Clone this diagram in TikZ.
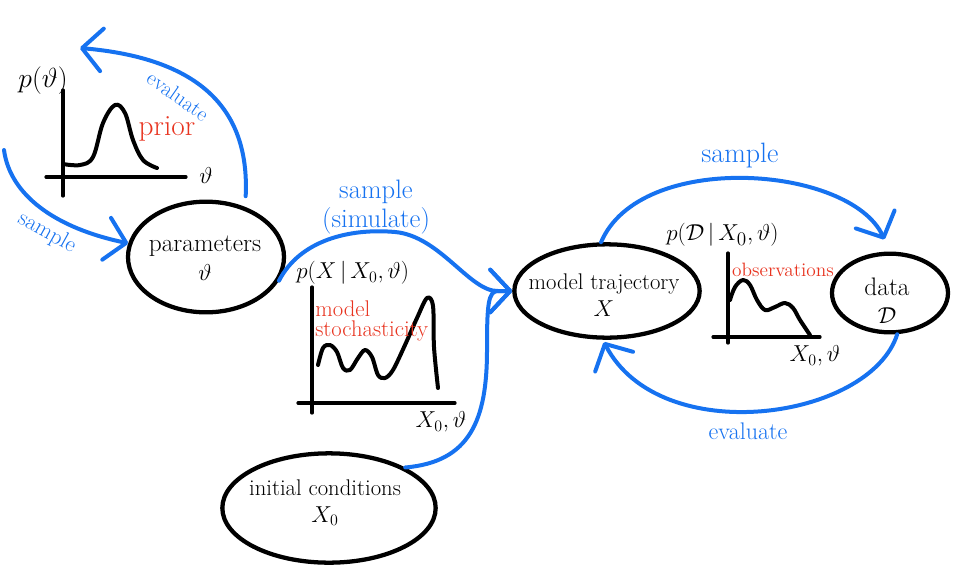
\documentclass[tikz,border=0pt]{standalone}
\usepackage{fontspec}
\usetikzlibrary{shapes.geometric,arrows.meta}
\definecolor{hblue}{RGB}{22,114,240}
\definecolor{hred}{RGB}{232,52,32}
\begin{document}
\begin{tikzpicture}[x=0.75pt,y=-0.75pt,
  ell/.style={draw=black,line width=3.2pt,ellipse,inner sep=0pt},
  conn/.style={draw=hblue,line width=3pt,line cap=round,
    -{Straight Barb[length=15pt,width=32pt,round]}},
  axis/.style={draw=black,line width=2.4pt,line cap=round},
  curve/.style={draw=black,line width=3pt,line cap=round,line join=round},
  txt/.style={font=\fontsize{17}{20}\selectfont,inner sep=0pt,align=center},
  btxt/.style={text=hblue,font=\fontsize{19}{22}\selectfont,inner sep=0pt,align=center},
  rtxt/.style={text=hred,font=\fontsize{17}{19}\selectfont,inner sep=0pt,align=left},
  mtxt/.style={font=\fontsize{18}{20}\selectfont,inner sep=0pt}
]
\useasboundingbox (0,0) rectangle (955,567);

% ---------- nodes ----------
\node[ell,minimum width=117pt,minimum height=83pt] (par) at (206,257) {};
\node[txt,font=\fontsize{19}{22}\selectfont] (partxt) at (205,258) {parameters\\$\vartheta$};

\node[ell,minimum width=139pt,minimum height=70pt] (traj) at (607,291) {};
\node[txt] (trajtxt) at (604,295) {model trajectory\\$X$};

\node[ell,minimum width=87pt,minimum height=59pt] (data) at (890,293) {};
\node[txt,font=\fontsize{19}{21}\selectfont] (datatxt) at (887,301) {data\\$\mathcal{D}$};

\node[ell,minimum width=160pt,minimum height=82pt] (init) at (329,508) {};
\node[txt] (inittxt) at (325,503) {initial conditions\\$X_0$};

% ---------- prior plot ----------
\draw[axis] (63,90) -- (63,196);
\draw[axis] (46,177) -- (186,177);
\draw[curve] plot[smooth,tension=0.6] coordinates {(63,164) (80,165) (93,157) (103,123) (115,105) (125,113) (133,140) (143,160) (157,168)};
\node[mtxt,font=\fontsize{20}{22}\selectfont] (pth) at (43,81) {$p(\vartheta)$};
\node[rtxt,font=\fontsize{22}{24}\selectfont] (prior) at (167,129) {prior};
\node[mtxt] (thax) at (206,175) {$\vartheta$};

% ---------- model stochasticity plot ----------
\draw[axis] (312,287) -- (312,413);
\draw[axis] (298,403) -- (455,403);
\draw[curve] plot[smooth,tension=0.55] coordinates {(318,365) (323,348) (330,345) (337,352) (343,368) (350,370) (358,358) (365,350) (372,357) (378,375) (385,378) (393,370) (405,345) (417,318) (427,298) (433,306) (434,347) (438,388)};
\node[mtxt,anchor=west] (pX) at (296,273) {$p(X\,|\,X_0,\vartheta)$};
\node[rtxt,anchor=north west] (stoch) at (315,300) {model\\[-4pt]stochasticity};
\node[mtxt] (xax1) at (441,422) {$X_0,\vartheta$};

% ---------- observation plot ----------
\draw[axis] (728,253) -- (728,343);
\draw[axis] (713,337) -- (820,337);
\draw[curve] plot[smooth,tension=0.6] coordinates {(730,300) (735,287) (743,280) (750,285) (757,300) (765,310) (775,307) (785,303) (793,308) (800,320) (810,335)};
\node[mtxt,anchor=west,font=\fontsize{19}{21}\selectfont] (pD) at (666,235) {$p(\mathcal{D}\,|\,X_0,\vartheta)$};
\node[rtxt,font=\fontsize{14.5}{16}\selectfont] (obs) at (783,270) {observations};
\node[mtxt] (xax2) at (815,356) {$X_0,\vartheta$};

% ---------- free ends ----------
\coordinate (evtip) at (80,48);
\coordinate (s0) at (4,150);

% ---------- connectors ----------
\draw[conn,shorten <=8pt] (par.52) .. controls (250,105) and (195,58) .. (evtip);
\node[btxt,rotate=-35,font=\fontsize{16}{19}\selectfont] (evl1) at (178,96) {evaluate};

\draw[conn] (s0) .. controls (10,195) and (55,228) .. (par.170);
\node[btxt,rotate=-29,font=\fontsize{17}{20}\selectfont] (sml1) at (47,233) {sample};

\draw[conn] (par.-18) .. controls (300,240) and (350,228) .. (395,232)
   .. controls (440,236) and (470,292) .. (498,291) -- (traj.west);
\node[btxt,font=\fontsize{20}{22}\selectfont] (sml2) at (376,207) {sample\\(simulate)};

\draw[conn] (init.28) .. controls (470,462) and (487,420) .. (487,350)
   .. controls (487,305) and (488,291) .. (498,291) -- (traj.west);

\draw[conn,shorten >=10pt] (traj.97) .. controls (640,150) and (850,165) .. (data.north);
\node[btxt,font=\fontsize{21}{23}\selectfont] (sml3) at (740,156) {sample};

\draw[conn,shorten >=2pt] (data.-80) .. controls (870,420) and (660,450) .. (traj.-95);
\node[btxt,font=\fontsize{18}{20}\selectfont] (evl2) at (748,431) {evaluate};
\end{tikzpicture}
\end{document}
